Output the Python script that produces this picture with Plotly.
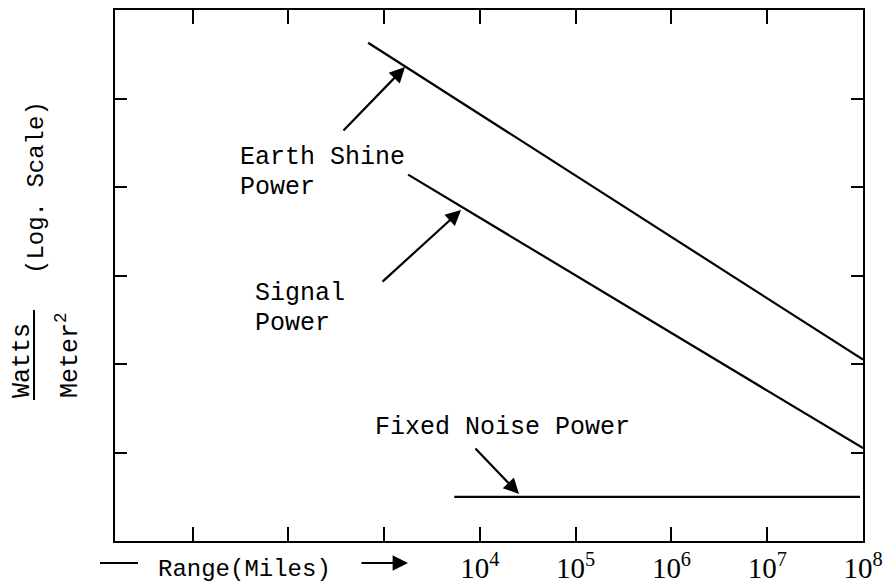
import plotly.graph_objects as go

# ---- data ----
earth_x = [680, 1.0e8]
earth_y = [4.27e5, 112]
signal_x = [1780, 1.0e8]
signal_y = [1.38e4, 11.2]
noise_x = [5400, 9.3e7]
noise_y = [3.16, 3.16]

x_tickvals = [1e1, 1e2, 1e3, 1e4, 1e5, 1e6, 1e7, 1e8]
x_ticktext = ["", "", "", "10<sup>4</sup>", "10<sup>5</sup>", "10<sup>6</sup>",
              "10<sup>7</sup>", "10<sup>8</sup>"]
y_tickvals = [1e1, 1e2, 1e3, 1e4, 1e5]

MONO = "Liberation Mono"
line_style = dict(color="black", width=2.2)

fig = go.Figure()
fig.add_trace(go.Scatter(x=earth_x, y=earth_y, mode="lines", line=line_style,
                         name="Earth Shine Power"))
fig.add_trace(go.Scatter(x=signal_x, y=signal_y, mode="lines", line=line_style,
                         name="Signal Power"))
fig.add_trace(go.Scatter(x=noise_x, y=noise_y, mode="lines", line=line_style,
                         name="Fixed Noise Power"))

ann = []
def txt(t, x, y, size=25, **kw):
    d = dict(text=t, x=x, y=y, xref="x", yref="y", showarrow=False,
             xanchor="left", yanchor="middle",
             font=dict(family=MONO, size=size, color="black"))
    d.update(kw)
    ann.append(d)

txt("Earth Shine", 1.474, 4.328)
txt("Power", 1.474, 3.989)
txt("Signal", 1.631, 2.802)
txt("Power", 1.631, 2.463)
txt("Fixed Noise Power", 2.884, 1.288)

def arrow(x, y, ax, ay):
    ann.append(dict(x=x, y=y, xref="x", yref="y", ax=ax, ay=ay, text="",
                    showarrow=True, arrowhead=2, arrowsize=1.4, arrowwidth=2.2,
                    arrowcolor="black"))

arrow(3.218, 5.356, -63, 65)
arrow(3.803, 3.740, -80, 73)
arrow(4.408, 0.531, -45, -47)

# axis titles
def ptxt(t, px, py, size=25, angle=0, **kw):
    d = dict(text=t, x=0, y=(541 - py) / 531, xref="paper", yref="paper",
             xshift=px - 115, showarrow=False, xanchor="center", yanchor="middle",
             textangle=angle, font=dict(family=MONO, size=size, color="black"))
    d.update(kw)
    ann.append(d)

ptxt("Range(Miles)", 244, 569, size=24)
ptxt("(Log. Scale)", 37, 188, size=24, angle=-90)
ptxt("Watts", 22, 361, size=25, angle=-90)
ptxt("Meter<sup>2</sup>", 68, 355, size=25, angle=-90)

# x-title arrow
ann.append(dict(x=(408 - 115) / 748, y=(541 - 563) / 531, xref="paper", yref="paper",
                ax=-48, ay=0, text="", showarrow=True, arrowhead=2, arrowsize=1.4,
                arrowwidth=2.2, arrowcolor="black"))

shapes = [
    dict(type="line", xref="paper", yref="paper",
         x0=(100 - 115) / 748, x1=(138 - 115) / 748,
         y0=(541 - 563) / 531, y1=(541 - 563) / 531,
         line=dict(color="black", width=2)),
    dict(type="line", xref="paper", yref="paper",
         x0=(34 - 115) / 748, x1=(34 - 115) / 748,
         y0=(541 - 310) / 531, y1=(541 - 400) / 531,
         line=dict(color="black", width=2)),
]

fig.update_layout(
    width=885, height=587,
    margin=dict(l=115, r=22, t=10, b=46, autoexpand=False),
    paper_bgcolor="white", plot_bgcolor="white",
    showlegend=False,
    annotations=ann, shapes=shapes,
    xaxis=dict(type="log", range=[0.19, 8.0], tickvals=x_tickvals, ticktext=x_ticktext,
               ticks="inside", ticklen=14, tickwidth=2, tickcolor="black",
               showline=True, linewidth=2, linecolor="black", mirror="ticks",
               showgrid=False, zeroline=False, ticklabelstandoff=0, automargin=False,
               tickfont=dict(family="Liberation Serif", size=29, color="black")),
    yaxis=dict(type="log", range=[0, 6], tickvals=y_tickvals, showticklabels=False,
               ticks="inside", ticklen=12, tickwidth=2, tickcolor="black",
               showline=True, linewidth=2, linecolor="black", mirror="ticks",
               showgrid=False, zeroline=False, automargin=False),
)

fig.write_html("out.html")
